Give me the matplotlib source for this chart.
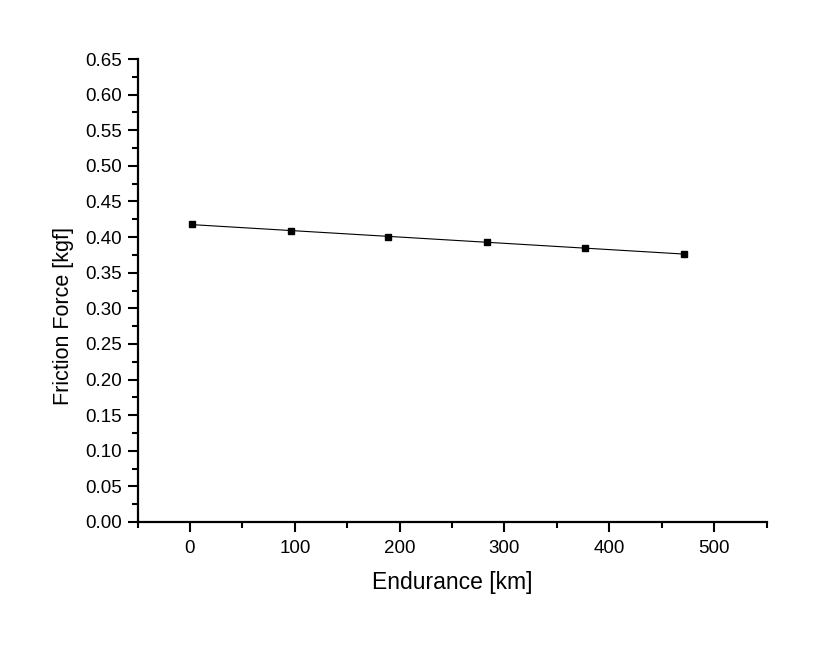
import matplotlib
matplotlib.use("Agg")
import matplotlib.pyplot as plt
from matplotlib.ticker import MultipleLocator
import numpy as np

# data
endurance = [2, 96, 189, 283, 377, 471]
friction = [0.418, 0.409, 0.400, 0.393, 0.385, 0.376]

plt.rcParams['font.family'] = ['Liberation Sans', 'DejaVu Sans']

fig = plt.figure(figsize=(8.15, 6.47), dpi=100)
ax = fig.add_axes([0.1688, 0.1932, 0.7718, 0.7156])

# linear fit line through the points, like the original
coef = np.polyfit(endurance, friction, 1)
xs = np.array([endurance[0], endurance[-1]])
ax.plot(xs, np.polyval(coef, xs), color='black', lw=0.8)
ax.plot(endurance, friction, 's', color='black', ms=4)

ax.set_xlim(-50, 550)
ax.set_ylim(0, 0.65)
ax.xaxis.set_major_locator(MultipleLocator(100))
ax.xaxis.set_minor_locator(MultipleLocator(50))
ax.yaxis.set_major_locator(MultipleLocator(0.05))
ax.yaxis.set_minor_locator(MultipleLocator(0.025))
ax.yaxis.set_major_formatter(plt.FormatStrFormatter('%.2f'))

for s in ['top', 'right']:
    ax.spines[s].set_visible(False)
for s in ['left', 'bottom']:
    ax.spines[s].set_linewidth(1.6)

ax.tick_params(which='major', direction='out', length=7, width=1.5, labelsize=13.5, pad=4)
ax.tick_params(which='minor', direction='out', length=4, width=1.5)
ax.tick_params(axis='x', which='major', pad=6)

ax.set_xlabel('Endurance [km]', fontsize=16.5, labelpad=10)
ax.set_ylabel('Friction Force [kgf]', fontsize=15.5)
ax.yaxis.set_label_coords(-0.101, 0.445)

fig.savefig('out.png', dpi=100)
